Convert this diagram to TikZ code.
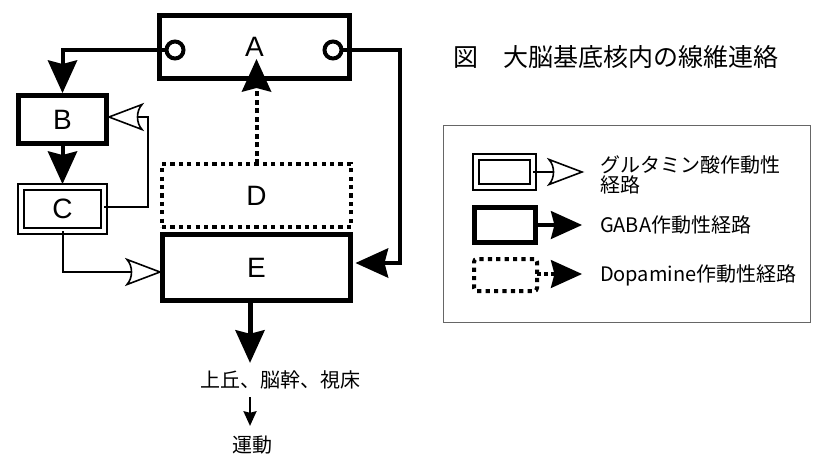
\documentclass[tikz,border=0pt]{standalone}
\usepackage{fontspec}
\setmainfont{Liberation Sans}
\newfontfamily\jp{Noto Sans CJK JP}
\begin{document}
\begin{tikzpicture}[x=1pt,y=-1pt,
  every node/.style={outer sep=0pt},
  box/.style={draw, line width=5pt, fill=white, inner sep=0pt, font=\fontsize{28}{28}\selectfont},
  dblbox/.style={draw, double, line width=2pt, double distance=4pt, inner sep=0pt, font=\fontsize{28}{28}\selectfont},
  dotbox/.style={draw, line width=4pt, dash pattern=on 4.2pt off 4.2pt, inner sep=0pt, font=\fontsize{28}{28}\selectfont},
  port/.style={draw, circle, line width=4pt, fill=white, minimum size=17pt, inner sep=0pt},
  gaba/.style={line width=4pt, shorten >=16pt},
  glu/.style={line width=2pt, shorten >=16pt},
  dopa/.style={line width=4pt, dash pattern=on 5pt off 3.5pt, shorten >=16pt},
  jtext/.style={font=\jp\fontsize{20}{20}\selectfont, inner sep=0pt, align=left},
  fhead/.pic={\fill (0,0) -- (-33,15) -- (-29,0) -- (-33,-15) -- cycle;},
  ohead/.pic={\filldraw[fill=white, line width=1.6pt, line join=miter] (0,0) -- (-33,12.5) .. controls (-27,6) and (-27,-6) .. (-33,-12.5) -- cycle;}
]
\useasboundingbox (0,0) rectangle (821,458);

% main boxes
\node[box, minimum width=190pt, minimum height=63pt] (A) at (254.5,46.5) {A};
\node[port] (pl) at (175,50) {};
\node[port] (pr) at (333,50) {};
\node[box, minimum width=88pt, minimum height=48pt] (B) at (62.5,119.5) {B};
\node[dblbox, minimum width=83pt, minimum height=44pt] (C) at (62.5,209) {C};
\node[dotbox, minimum width=189pt, minimum height=63pt] (D) at (256.5,195.5) {D};
\node[box, minimum width=188pt, minimum height=66pt] (E) at (256.5,267.5) {E};

% outputs
\node[jtext, anchor=west, inner ysep=8pt] (out) at (200,380) {上丘、脳幹、視床};
\node[jtext, inner ysep=10pt] (mot) at (252,445) {運動};

% title
\node[font=\jp\fontsize{25}{25}\selectfont, anchor=west, inner sep=0pt] (title) at (453,57) {図　大脳基底核内の線維連絡};

% helper coordinates
\coordinate (atip) at ([yshift=19pt]A.south);
\coordinate (cbc) at (148,117);
\coordinate (aec) at (400,263);
\coordinate (ex) at (250,0);
\coordinate (btip) at ([yshift=2.5pt]B.north);
\coordinate (ctip) at ([yshift=3pt]C.north);
\coordinate (bside) at ([xshift=2.5pt]B.east |- cbc);
\coordinate (eleft) at ([xshift=-2.5pt,yshift=-4.5pt]E.west);
\coordinate (eright) at ([xshift=5pt]E.east |- aec);
\coordinate (dtip) at (D.north |- atip);
\coordinate (otip) at (ex |- out.north);
\coordinate (mtip) at (ex |- mot.north);

% connectors
\draw[gaba] (pl.west) -| (btip);
\draw[gaba] (B.south) -- (ctip);
\draw[glu] ([yshift=2pt]C.east) -| (cbc) -- (bside);
\draw[glu] (C.south) |- (eleft);
\draw[dopa] (D.north) -- (dtip);
\draw[gaba] (pr.east) -| (aec) -- (eright);
\draw[line width=5pt, shorten >=16pt] (E.south -| ex) -- (otip);
\draw[line width=2pt, shorten >=8pt] (ex |- out.south) -- (mtip);

% heads
\pic[rotate=-90] at (btip) {fhead};
\pic[rotate=-90] at (ctip) {fhead};
\pic[rotate=180] at (bside) {ohead};
\pic at (eleft) {ohead};
\pic[rotate=90] at (dtip) {fhead};
\pic[rotate=180] at (eright) {fhead};
\pic[rotate=-90] at (otip) {fhead};
\pic[rotate=-90, scale=0.45] at (mtip) {fhead};

% legend
\node[draw=black!60, line width=1pt, minimum width=367pt, minimum height=197pt, inner sep=0pt] (L) at (626.5,223.5) {};
\node[draw, double, line width=2pt, double distance=3.5pt, minimum width=57pt, minimum height=30pt, inner sep=0pt] (g1) at (504.5,172) {};
\node[draw, line width=5pt, minimum width=61pt, minimum height=35pt, inner sep=0pt] (g2) at (505,225) {};
\node[draw, line width=4pt, dash pattern=on 4.2pt off 4.2pt, rounded corners=3pt, minimum width=63pt, minimum height=32pt, inner sep=0pt] (g3) at (505.5,275) {};
\node[jtext, anchor=west] (t1) at (600,175) {グルタミン酸作動性\\経路};
\node[jtext, anchor=west] (t2) at (600,225) {GABA作動性経路};
\node[jtext, anchor=west] (t3) at (600,275) {Dopamine作動性経路};
\coordinate (k1) at (582,172);
\coordinate (k2) at (582,225);
\coordinate (k3) at (582,274);
\draw[glu] (g1.east |- k1) -- (k1);
\draw[gaba] (g2.east |- k2) -- (k2);
\draw[dopa, dash pattern=on 4pt off 3pt] (g3.east |- k3) -- (k3);
\pic at (k1) {ohead};
\pic[scale=0.95] at (k2) {fhead};
\pic[scale=0.95] at (k3) {fhead};
\end{tikzpicture}
\end{document}
